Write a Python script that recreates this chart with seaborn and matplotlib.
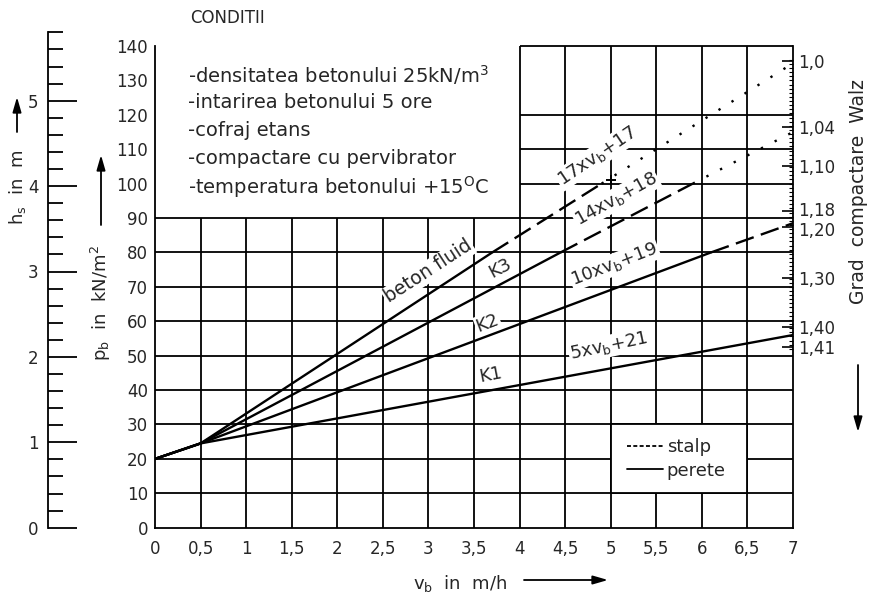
import numpy as np
import pandas as pd
import matplotlib
matplotlib.use("Agg")
import matplotlib.pyplot as plt
import matplotlib.transforms as mtransforms
from matplotlib.patches import FancyArrowPatch, Rectangle
from matplotlib.lines import Line2D
import seaborn as sns

# ---------------- data ----------------
x_ticks = [0, 0.5, 1, 1.5, 2, 2.5, 3, 3.5, 4, 4.5, 5, 5.5, 6, 6.5, 7]
x_labels = ["0", "0,5", "1", "1,5", "2", "2,5", "3", "3,5", "4", "4,5",
            "5", "5,5", "6", "6,5", "7"]
y_ticks = [0, 10, 20, 30, 40, 50, 60, 70, 80, 90, 100, 110, 120, 130, 140]

walz_pos = [135.5, 116.6, 105.0, 91.9, 87.5, 72.6, 58.4, 52.6]
walz_labels = ["1,0", "1,04", "1,10", "1,18", "1,20", "1,30", "1,40", "1,41"]

hs_ticks = [0, 1, 2, 3, 4, 5]
hs_labels = ["0", "1", "2", "3", "4", "5"]

# curves: points and style of the segment ending at each point
fluid_v = [0, 0.5, 3.7, 4.9, 7.0]
fluid_p = [20, 24.5, 80, 100, 135]
fluid_s = ["solid", "solid", "dashed", "dotted"]

k3_v = [0, 0.5, 4.45, 5.9, 7.0]
k3_p = [20, 24.5, 80, 100, 115]
k3_s = ["solid", "solid", "dashed", "dotted"]

k2_v = [0, 0.5, 6.1, 7.0]
k2_p = [20, 24.5, 80, 88.5]
k2_s = ["solid", "solid", "dashed"]

k1_v = [0, 0.5, 7.0]
k1_p = [20, 24.5, 56]
k1_s = ["solid", "solid"]

marker_v = [5.0]
marker_p = [101.0]

conditions = [
    "-densitatea betonului 25kN/m$\\mathregular{^3}$",
    "-intarirea betonului 5 ore",
    "-cofraj etans",
    "-compactare cu pervibrator",
    "-temperatura betonului +15$\\mathregular{^O}$C",
]

# ---------------- style ----------------
sns.set_style("white")
plt.rcParams["font.family"] = ["DejaVu Sans"]
plt.rcParams["mathtext.default"] = "regular"
FS = 12
LW_GRID = 1.3
LW_CURVE = 1.7

W, H = 872, 600
def fx(px):
    return px / W
def fy(py):
    return 1 - py / H

fig = plt.figure(figsize=(8.72, 6.0), dpi=100)
fig.patch.set_facecolor("white")

y0_px, y140_px = 527.7, 46.0
ax = fig.add_axes([fx(155), fy(y0_px), (793 - 155) / W, (y0_px - y140_px) / H])
ax.set_xlim(0, 7)
ax.set_ylim(0, 140)
ax.set_facecolor("none")

# grid (lower full region, upper right block)
ax.vlines(np.arange(0.5, 7, 0.5), 0, 90, color="black", lw=LW_GRID, zorder=1)
ax.hlines(np.arange(10, 91, 10), 0, 7, color="black", lw=LW_GRID, zorder=1)
ax.vlines(np.arange(4, 7, 0.5), 90, 140, color="black", lw=LW_GRID, zorder=1,
          clip_on=False)
ax.hlines([100, 110, 120, 140], 4, 7, color="black", lw=LW_GRID, zorder=1,
          clip_on=False)

for side in ["left", "bottom", "right"]:
    ax.spines[side].set_visible(True)
    ax.spines[side].set_color("black")
    ax.spines[side].set_linewidth(LW_GRID)
ax.spines["top"].set_visible(False)

ax.set_xticks(x_ticks)
ax.set_xticklabels(x_labels)
ax.set_yticks(y_ticks)
ax.tick_params(axis="both", length=0, labelsize=FS)
ax.tick_params(axis="x", pad=9)
ax.tick_params(axis="y", pad=5)

# legend box
ax.add_patch(Rectangle((5, 10), 1.5, 20, facecolor="white", edgecolor="black",
                       lw=LW_GRID, zorder=2))

# curves
styles = {"solid": "-", "dashed": (0, (8, 3.2)), "dotted": (0, (1, 5.5))}
rows = []
for name, vs, ps, ss in [("fluid", fluid_v, fluid_p, fluid_s),
                         ("K3", k3_v, k3_p, k3_s),
                         ("K2", k2_v, k2_p, k2_s),
                         ("K1", k1_v, k1_p, k1_s)]:
    for i, s in enumerate(ss):
        seg = f"{name}_{i}"
        rows.append(dict(seg=seg, kind=s, v=vs[i], p=ps[i]))
        rows.append(dict(seg=seg, kind=s, v=vs[i + 1], p=ps[i + 1]))
df = pd.DataFrame(rows)
for (seg, kind), g in df.groupby(["seg", "kind"], sort=False):
    sns.lineplot(x=g["v"].values, y=g["p"].values, ax=ax, color="black",
                 lw=LW_CURVE, linestyle=styles[kind], estimator=None,
                 sort=False, zorder=3)

sns.scatterplot(x=marker_v, y=marker_p, ax=ax, marker="+", s=60, color="black",
                linewidth=1.4, zorder=4)

# curve labels
box = dict(facecolor="white", edgecolor="none", pad=0.8)
labels = [
    ("beton fluid", 3.0, 74.5, 33, 13.5),
    ("K3", 3.79, 75.5, 28, 13),
    ("K2", 3.65, 59.5, 21, 13),
    ("K1", 3.68, 44.3, 11, 13),
    ("17xv$_b$+17", 4.85, 108.0, 34, 13),
    ("14xv$_b$+18", 5.06, 95.5, 29, 13),
    ("10xv$_b$+19", 5.04, 76.5, 21, 13),
    ("5xv$_b$+21", 4.98, 52.8, 12, 13),
]
for t, xv, yv, r, fs in labels:
    ax.text(xv, yv, t, rotation=r, ha="center", va="center", fontsize=fs,
            bbox=box, zorder=5, rotation_mode="anchor")

# legend
leg = ax.legend(handles=[Line2D([], [], color="black", lw=1.3, ls=(0, (2.2, 1.3))),
                         Line2D([], [], color="black", lw=1.3)],
                labels=["stalp", "perete"], loc="center",
                bbox_to_anchor=(5.72, 20), bbox_transform=ax.transData,
                frameon=False, handlelength=2.0, handletextpad=0.2,
                fontsize=13, labelspacing=0.3)
leg.set_zorder(6)

# conditions text
fig.text(fx(190), fy(18), "CONDITII", fontsize=FS, va="center", ha="left")
for i, t in enumerate(conditions):
    fig.text(fx(188), fy(75 + 28 * i), t, fontsize=14, va="center", ha="left")

# right axis (Walz)
axr = ax.twinx()
axr.set_ylim(0, 140)
for side in ["left", "bottom", "top", "right"]:
    axr.spines[side].set_visible(False)
axr.set_yticks(walz_pos)
axr.set_yticklabels(walz_labels)
axr.set_yticks(np.arange(52, 137, 1.2), minor=True)
axr.tick_params(axis="y", which="major", right=True, direction="in", length=8,
                width=1.2, labelsize=12, pad=4, color="black")
axr.tick_params(axis="y", which="minor", right=True, direction="in", length=3,
                width=0.8, color="black")
# nudge the two close labels apart a little
tl = axr.get_yticklabels()
tl[3].set_transform(tl[3].get_transform() +
                    mtransforms.ScaledTranslation(0, 2 / 72, fig.dpi_scale_trans))
tl[4].set_transform(tl[4].get_transform() +
                    mtransforms.ScaledTranslation(0, -2 / 72, fig.dpi_scale_trans))

fig.text(fx(858), fy(192), "Grad  compactare  Walz", rotation=90, fontsize=13.5,
         ha="center", va="center")

def arrow(p0, p1):
    fig.add_artist(FancyArrowPatch(
        (fx(p0[0]), fy(p0[1])), (fx(p1[0]), fy(p1[1])),
        transform=fig.transFigure,
        arrowstyle="-|>,head_length=9,head_width=2.6", color="black", lw=1.3,
        shrinkA=0, shrinkB=0))

arrow((858, 365), (858, 432))

# left h_s scale
hs_top = 5.8
axh = fig.add_axes([fx(48), fy(y0_px), 0.002, hs_top * 85.4 / H])
axh.set_ylim(0, hs_top)
axh.set_xlim(0, 1)
axh.set_facecolor("none")
for side in ["right", "bottom", "top"]:
    axh.spines[side].set_visible(False)
axh.spines["left"].set_linewidth(LW_GRID)
axh.spines["left"].set_color("black")
axh.set_xticks([])
axh.set_yticks(hs_ticks)
axh.set_yticklabels(hs_labels)
axh.set_yticks([t for t in np.arange(0.2, 5.81, 0.2) if abs(t - round(t)) > 1e-6],
               minor=True)
axh.tick_params(axis="y", which="major", left=True, direction="in", length=21,
                width=1.3, labelsize=FS, pad=7, color="black")
axh.tick_params(axis="y", which="minor", left=True, direction="in", length=11,
                width=1.3, color="black")

# axis titles with arrows
fig.text(fx(17), fy(187), "h$_s$  in  m", rotation=90, fontsize=13,
         ha="center", va="center")
arrow((17, 132), (17, 97))

fig.text(fx(101), fy(303), "p$_b$  in  kN/m$^2$", rotation=90, fontsize=13,
         ha="center", va="center")
arrow((101, 225), (101, 155))

fig.text(fx(460), fy(583), "v$_b$  in  m/h", fontsize=13, ha="center", va="center")
arrow((524, 580), (608, 580))

fig.savefig("out.png", dpi=100, facecolor="white")
